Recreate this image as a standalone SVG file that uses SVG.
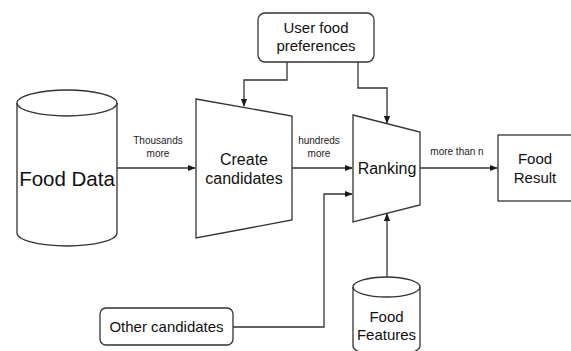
<svg xmlns="http://www.w3.org/2000/svg" width="571" height="351" viewBox="0 0 571 351">
<defs>
<marker id="arr" viewBox="0 0 10 10" refX="9" refY="5" markerWidth="8" markerHeight="8" markerUnits="userSpaceOnUse" orient="auto">
<path d="M0,1 L10,5 L0,9 Z" fill="#1a1a1a"/>
</marker>
<style>
.shape{fill:#fff;stroke:#333;stroke-width:1.3}
.conn{fill:none;stroke:#333;stroke-width:1.3}
.t{font-family:"Liberation Sans",Arial,sans-serif;fill:#111;text-anchor:middle}
.lbl{font-family:"Liberation Sans",Arial,sans-serif;fill:#222;text-anchor:middle;font-size:10px}
</style>
</defs>
<rect width="571" height="351" fill="#fff"/>
<g id="connectors">
<path class="conn" d="M117,168 L195,168" marker-end="url(#arr)"/>
<path class="conn" d="M292,168 L352,168" marker-end="url(#arr)"/>
<path class="conn" d="M420,168 L497,168" marker-end="url(#arr)"/>
<path class="conn" d="M287,62 L287,80 L244,80 L244,106" marker-end="url(#arr)"/>
<path class="conn" d="M358,62 L358,88 L387,88 L387,123" marker-end="url(#arr)"/>
<path class="conn" d="M233,327 L324,327 L324,194 L352,194" marker-end="url(#arr)"/>
<path class="conn" d="M387,277 L387,214" marker-end="url(#arr)"/>
<text class="lbl" x="158" y="144">Thousands</text>
<text class="lbl" x="158" y="157">more</text>
<text class="lbl" x="319" y="144">hundreds</text>
<text class="lbl" x="319" y="157">more</text>
<text class="lbl" x="457" y="155">more than n</text>
</g>
<g id="food-data">
<path class="shape" d="M17,103 A50,13 0 0 1 117,103 L117,233 A50,13 0 0 1 17,233 Z"/>
<path class="conn" d="M17,103 A50,13 0 0 0 117,103"/>
<text class="t" x="67" y="186" font-size="20.5">Food Data</text>
</g>
<g id="create-candidates">
<path class="shape" d="M196,99 L292,116 L292,220 L196,238 Z"/>
<text class="t" x="244" y="165" font-size="16">Create</text>
<text class="t" x="244" y="184" font-size="16">candidates</text>
</g>
<g id="ranking">
<path class="shape" d="M353,115 L420,132 L420,205 L353,222 Z"/>
<text class="t" x="387" y="174" font-size="16">Ranking</text>
</g>
<g id="user-food-preferences">
<rect class="shape" x="258" y="13" width="116" height="49" rx="7"/>
<text class="t" x="316" y="33" font-size="15">User food</text>
<text class="t" x="316" y="51" font-size="15">preferences</text>
</g>
<g id="food-result">
<rect class="shape" x="498" y="135" width="75" height="66"/>
<text class="t" x="535" y="164" font-size="15">Food</text>
<text class="t" x="535" y="183" font-size="15">Result</text>
</g>
<g id="other-candidates">
<rect class="shape" x="100" y="308" width="133" height="37" rx="6"/>
<text class="t" x="166.5" y="332" font-size="15">Other candidates</text>
</g>
<g id="food-features">
<path class="shape" d="M353,287 A33.5,10 0 0 1 420,287 L420,346 A33.5,10 0 0 1 353,346 Z"/>
<path class="conn" d="M353,287 A33.5,10 0 0 0 420,287"/>
<text class="t" x="386.5" y="322" font-size="15">Food</text>
<text class="t" x="386.5" y="340" font-size="15">Features</text>
</g>
</svg>
